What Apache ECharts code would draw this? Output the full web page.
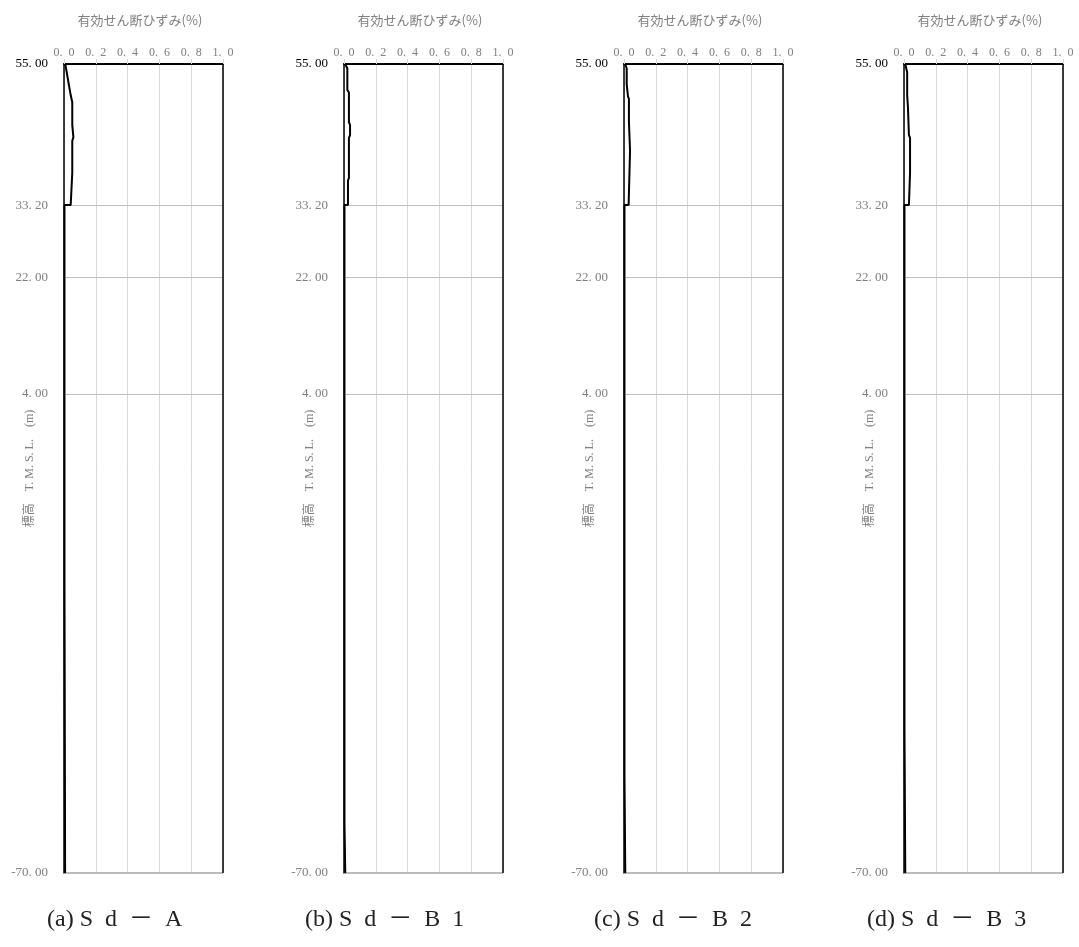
<!DOCTYPE html>
<html>
<head>
<meta charset="utf-8">
<script src="https://cdn.jsdelivr.net/npm/echarts@6/dist/echarts.min.js"></script>
<style>
html,body{margin:0;padding:0;background:#fff;}
#c{width:1079px;height:947px;}
</style>
</head>
<body>
<div id="c"></div>
<script>
// ---- data ----
const panelCaptions = ['(a) S\u2002d\u2002－\u2002A', '(b) S\u2002d\u2002－\u2002B\u20021', '(c) S\u2002d\u2002－\u2002B\u20022', '(d) S\u2002d\u2002－\u2002B\u20023'];
const xTitle = '有効せん断ひずみ(%)';
const yName = '標高　T. M. S. L.　(m)';
const yTickValues = [55, 33.2, 22, 4, -70];
const layerLines = [33.2, 22, 4];

// elevation (m) and effective shear strain (%) for each case
const elevA   = [55, 50.2, 49.1, 45.6, 45.3, 43.7, 43.1, 38.2, 37.9, 33.2, 33.2, -25.4, -25.4, -70];
const strainA = [0.008, 0.042, 0.052, 0.052, 0.059, 0.059, 0.052, 0.052, 0.042, 0.042, 0.003, 0.003, 0.007, 0.007];

const elevB1   = [55, 54.3, 51.0, 50.6, 46.0, 45.6, 44.0, 43.6, 37.4, 37.0, 33.2, 33.2, -62.4, -62.4, -70];
const strainB1 = [0.008, 0.021, 0.021, 0.031, 0.031, 0.038, 0.038, 0.031, 0.031, 0.025, 0.025, 0.003, 0.003, 0.008, 0.008];

const elevB2   = [55, 54.3, 51.9, 51.6, 50.0, 49.6, 46.0, 45.8, 41.6, 41.3, 33.2, 33.2, -55.0, -55.0, -70];
const strainB2 = [0.008, 0.017, 0.017, 0.025, 0.025, 0.031, 0.031, 0.038, 0.038, 0.029, 0.029, 0.003, 0.003, 0.008, 0.008];

const elevB3   = [55, 53.7, 50.2, 49.9, 48.2, 47.9, 44.0, 43.6, 38.2, 37.9, 33.2, 33.2, -47.7, -47.7, -70];
const strainB3 = [0.008, 0.020, 0.020, 0.025, 0.025, 0.031, 0.031, 0.038, 0.038, 0.031, 0.031, 0.003, 0.003, 0.008, 0.008];

const cases = [[elevA, strainA], [elevB1, strainB1], [elevB2, strainB2], [elevB3, strainB3]];
const captionLeft = [42, 300, 589, 862];

// ---- chart ----
const chart = echarts.init(document.getElementById('c'), null, {renderer: 'canvas'});
const serif = '"Liberation Serif", "Noto Sans CJK JP", serif';
const gray = '#7f7f7f';
const grids = [], xAxes = [], yAxes = [], series = [], titles = [];

cases.forEach(function (c, i) {
  const left = 64 + 280 * i;
  grids.push({left: left, top: 64, width: 159, height: 809, containLabel: false, outerBoundsMode: 'none'});
  xAxes.push({
    type: 'value', gridIndex: i, position: 'top', min: 0, max: 1, interval: 0.2,
    axisLine: {show: true, onZero: false, lineStyle: {color: '#000', width: 2}},
    axisTick: {show: true, length: 5, lineStyle: {color: '#d9d9d9'}},
    axisLabel: {color: gray, fontFamily: serif, fontSize: 12, margin: 5, hideOverlap: false,
      formatter: function (v) { return v.toFixed(1).replace('.', '.\u2002'); }},
    splitLine: {show: true, lineStyle: {color: '#d9d9d9', width: 1}}
  });
  yAxes.push({
    type: 'value', gridIndex: i, min: -70, max: 55,
    name: yName, nameLocation: 'middle', nameRotate: 90, nameGap: 28, nameMoveOverlap: false,
    nameTextStyle: {color: gray, fontFamily: serif, fontSize: 12},
    axisLine: {show: true, onZero: false, lineStyle: {color: '#000', width: 1.5}},
    axisTick: {show: false},
    splitLine: {show: false},
    axisLabel: {
      customValues: yTickValues, margin: 16, fontFamily: serif, fontSize: 13, color: gray,
      showMinLabel: true, showMaxLabel: true,
      formatter: function (v) {
        const s = v.toFixed(2).replace('.', '. ');
        return v === 55 ? '{top|' + s + '}' : s;
      },
      rich: {top: {color: '#000', fontFamily: serif, fontSize: 13}}
    }
  });
  const mlData = layerLines.map(function (y) { return {yAxis: y, lineStyle: {color: '#bfbfbf', width: 1, type: 'solid'}}; });
  mlData.push({yAxis: -70, lineStyle: {color: '#a6a6a6', width: 1.5, type: 'solid'}});
  mlData.push({xAxis: 1, lineStyle: {color: '#000', width: 1.5, type: 'solid'}});
  series.push({
    type: 'line', xAxisIndex: i, yAxisIndex: i, data: [], z: 1, silent: true,
    markLine: {silent: true, symbol: ['none', 'none'], label: {show: false}, animation: false, data: mlData}
  });
  series.push({
    type: 'line', xAxisIndex: i, yAxisIndex: i, z: 5, showSymbol: false, animation: false,
    lineStyle: {color: '#000', width: 2}, itemStyle: {color: '#000'},
    data: c[0].map(function (e, k) { return [c[1][k], e]; })
  });
  titles.push({
    text: xTitle, left: 135 + 280 * i, top: 9, textAlign: 'center',
    textStyle: {color: gray, fontSize: 13, fontWeight: 'normal', fontFamily: '"Noto Sans CJK JP", sans-serif'}
  });
  titles.push({
    text: panelCaptions[i], left: captionLeft[i], top: 903,
    textStyle: {color: '#222', fontSize: 24, fontWeight: 'normal', fontFamily: serif}
  });
});

chart.setOption({
  animation: false,
  backgroundColor: '#fff',
  title: titles,
  grid: grids,
  xAxis: xAxes,
  yAxis: yAxes,
  series: series
});
</script>
</body>
</html>
